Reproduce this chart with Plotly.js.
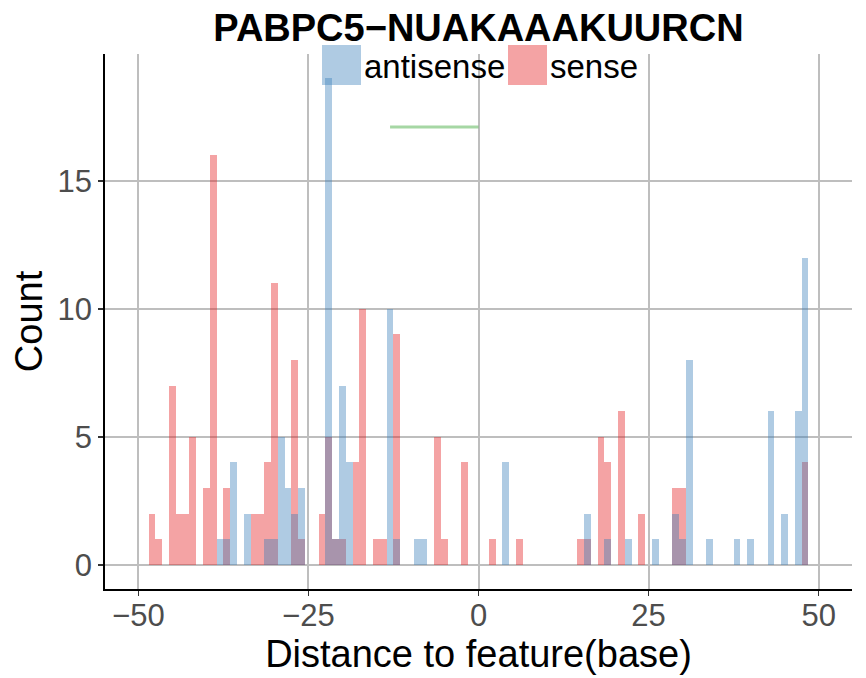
<!DOCTYPE html>
<html><head><meta charset="utf-8">
<script src="https://cdn.plot.ly/plotly-3.0.1.min.js"></script>
<style>html,body{margin:0;padding:0;background:#fff}#chart{width:866px;height:678px}</style>
</head><body><div id="chart"></div>
<script>
const antisenseBins = [-38,-37,-36,-34,-31,-30,-29,-28,-27,-26,-22,-21,-20,-19,-13,-12,-9,-8,4,16,19,22,26,29,30,31,34,38,40,43,45,47,48];
const antisenseCounts = [1,1,4,2,1,1,5,3,2,3,19,1,7,4,10,1,1,1,4,2,1,1,1,2,1,8,1,1,1,6,2,6,12];
const senseBins = [-48,-47,-45,-44,-43,-42,-40,-39,-37,-33,-32,-31,-30,-27,-26,-23,-22,-21,-20,-18,-17,-15,-14,-12,-6,-5,-2,2,6,15,16,18,19,21,24,29,30,48];
const senseCounts = [2,1,7,2,2,5,3,16,3,2,2,4,11,8,1,2,5,1,1,4,10,1,1,9,5,1,4,1,1,1,1,5,4,6,2,3,3,4];
const featureX = [-13, 0];
const featureY = [17.1, 17.1];
const xTickVals = [-50,-25,0,25,50];
const xTickText = ['\u221250','\u221225','0','25','50'];
const yTickVals = [0,5,10,15];
const yTickText = ['0','5','10','15'];
const seriesNames = ['antisense','sense'];
const chartTitle = 'PABPC5\u2212NUAKAAAKUURCN';

const FONT = '"Liberation Sans", Arial, Helvetica, sans-serif';
const blue = 'rgba(55,126,184,0.4)';
const red = 'rgba(228,26,28,0.4)';

const traces = [
  {type:'bar', x: senseBins, y: senseCounts, width: 1, name: seriesNames[1],
   marker:{color: red, line:{width:0}}, showlegend:false, hoverinfo:'x+y'},
  {type:'bar', x: antisenseBins, y: antisenseCounts, width: 1, name: seriesNames[0],
   marker:{color: blue, line:{width:0}}, showlegend:false, hoverinfo:'x+y'},
  {type:'scatter', mode:'lines', x: featureX, y: featureY,
   line:{color:'rgba(77,175,74,0.5)', width:3}, showlegend:false, hoverinfo:'skip'}
];

// plot area in px: x 105..852, y 54..589
const L=105, R=852, T=54, B=589;
const px = v => (v-L)/(R-L);
const py = v => (B-v)/(B-T);

const layout = {
  width: 866, height: 678,
  margin: {l: L, r: 866-R, t: T, b: 678-B, pad: 0},
  paper_bgcolor: '#fff', plot_bgcolor: '#fff',
  barmode: 'overlay', bargap: 0,
  font: {family: FONT, color: '#000'},
  title: {text: '<b>' + chartTitle + '</b>', font:{family: FONT, size: 38, color:'#000'},
          x: 0.5, xref: 'paper', y: 1 - 28/678, yref: 'container', yanchor: 'middle'},
  xaxis: {range: [-54.9, 54.9], tickvals: xTickVals, ticktext: xTickText,
          showgrid: true, gridcolor: '#BEBEBE', gridwidth: 2, zeroline: false,
          showline: true, linecolor: '#000', linewidth: 1.8,
          ticks: 'outside', ticklen: 5, tickwidth: 1.5, tickcolor: '#333',
          ticklabelstandoff: -7,
          tickfont: {family: FONT, size: 31, color: '#4D4D4D'},
          title: {text: 'Distance to feature(base)', font:{family: FONT, size: 38, color:'#000'}, standoff: 2},
          automargin: false, fixedrange: true},
  yaxis: {range: [-0.94, 19.95], tickvals: yTickVals, ticktext: yTickText,
          showgrid: true, gridcolor: '#BEBEBE', gridwidth: 2, zeroline: false,
          showline: true, linecolor: '#000', linewidth: 1.8,
          ticks: 'outside', ticklen: 5, tickwidth: 1.5, tickcolor: '#333',
          tickfont: {family: FONT, size: 31, color: '#4D4D4D'},
          title: {text: 'Count', font:{family: FONT, size: 38, color:'#000'}, standoff: 3},
          automargin: false, fixedrange: true},
  shapes: [
    {type:'rect', xref:'paper', yref:'paper', x0: px(322), x1: px(361), y0: py(85), y1: py(45),
     fillcolor: blue, line:{width:0}, layer:'above'},
    {type:'rect', xref:'paper', yref:'paper', x0: px(508), x1: px(547), y0: py(85), y1: py(45),
     fillcolor: red, line:{width:0}, layer:'above'}
  ],
  annotations: [
    {xref:'paper', yref:'paper', x: px(362), y: py(67), xanchor:'left', yanchor:'middle',
     text: seriesNames[0], showarrow:false, font:{family: FONT, size: 33, color:'#000'}},
    {xref:'paper', yref:'paper', x: px(548), y: py(67), xanchor:'left', yanchor:'middle',
     text: seriesNames[1], showarrow:false, font:{family: FONT, size: 33, color:'#000'}}
  ]
};

Plotly.newPlot('chart', traces, layout, {displayModeBar: false, staticPlot: true});
</script>
</body></html>
